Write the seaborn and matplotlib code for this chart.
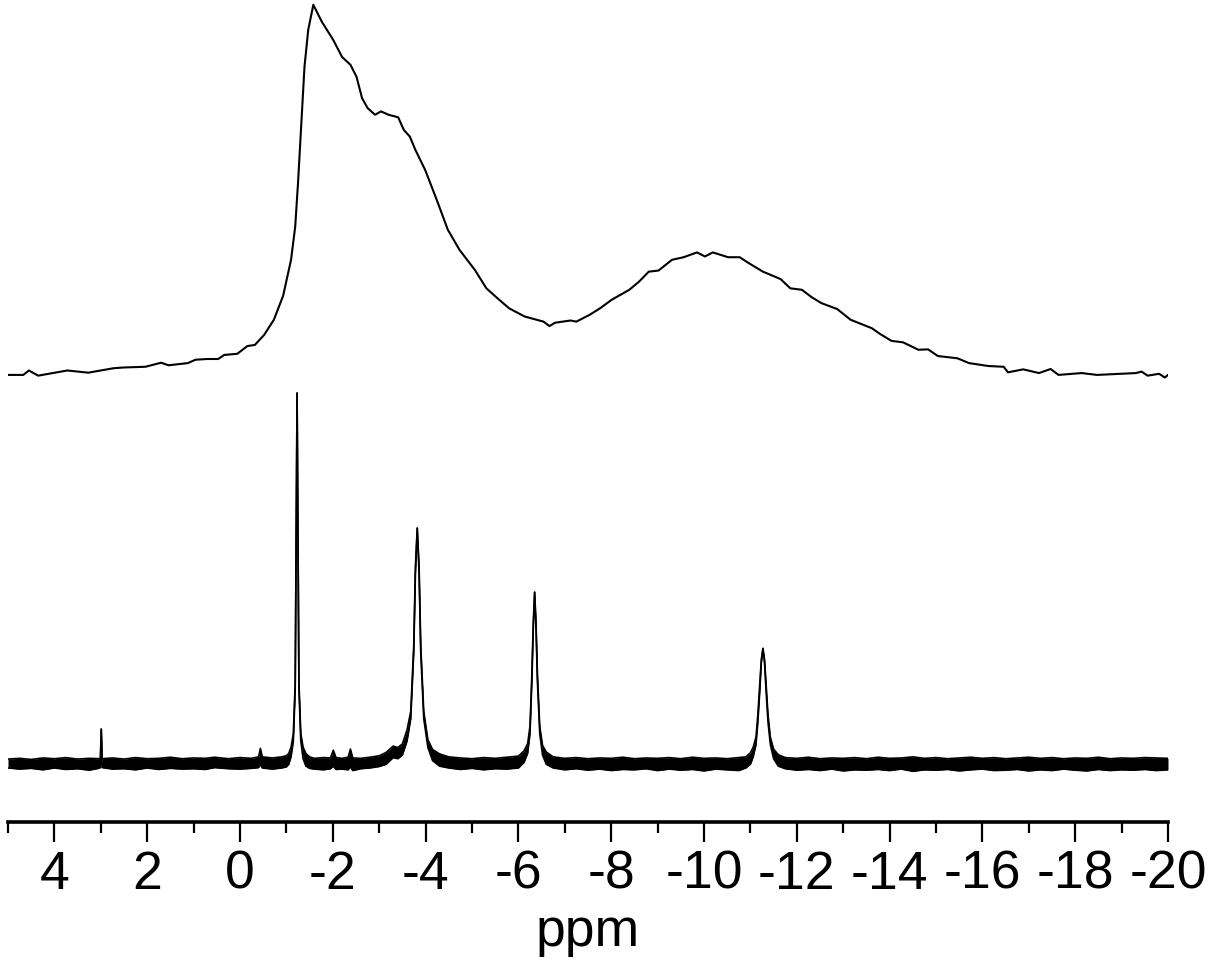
import matplotlib
matplotlib.use("Agg")
import matplotlib.pyplot as plt
import seaborn as sns
import numpy as np
import pandas as pd

# ---------------- data ----------------
# Top trace (broad spectrum): chemical shift (ppm) and intensity (top peak = 100)
top_ppm = [5.00, 4.67, 4.55, 4.35, 3.72, 3.27, 2.73, 2.52, 2.04, 1.70, 1.54, 1.12,
           0.96, 0.71, 0.47, 0.34, 0.06, -0.16, -0.32, -0.52, -0.73, -0.93, -1.10,
           -1.19, -1.25, -1.31, -1.39, -1.47, -1.58, -1.76, -2.01, -2.20, -2.38,
           -2.51, -2.63, -2.75, -2.91, -3.04, -3.20, -3.41, -3.53, -3.66, -3.78,
           -3.99, -4.24, -4.48, -4.73, -5.06, -5.31, -5.55, -5.80, -6.13, -6.54,
           -6.67, -6.79, -7.12, -7.25, -7.53, -7.76, -8.01, -8.39, -8.60, -8.81,
           -9.02, -9.31, -9.56, -9.85, -10.02, -10.19, -10.52, -10.77, -10.94,
           -11.27, -11.65, -11.86, -12.11, -12.32, -12.53, -12.87, -13.16, -13.62,
           -13.79, -14.04, -14.29, -14.62, -14.83, -15.04, -15.46, -15.71, -16.13,
           -16.46, -16.55, -16.88, -17.22, -17.47, -17.64, -18.14, -18.47, -19.31,
           -19.43, -19.56, -19.81, -19.93, -20.00]
top_int = [0.0, 0.0, 1.2, -0.2, 1.2, 0.6, 1.8, 2.0, 2.2, 3.3, 2.6, 3.2,
           4.1, 4.3, 4.3, 5.4, 5.7, 7.8, 8.1, 10.8, 14.9, 21.4, 31.1,
           40.1, 51.8, 65.3, 83.3, 93.2, 100.0, 95.5, 90.5, 85.9, 83.8,
           80.6, 74.8, 72.1, 70.3, 71.2, 70.3, 69.6, 66.2, 64.4, 60.8,
           55.4, 47.3, 39.2, 33.8, 28.4, 23.4, 20.7, 18.0, 15.8, 14.4,
           13.2, 14.1, 14.7, 14.4, 16.2, 18.0, 20.3, 23.0, 25.2, 27.9,
           28.2, 31.1, 31.8, 33.1, 32.0, 33.1, 31.8, 31.8, 30.4,
           27.9, 25.9, 23.4, 23.0, 21.0, 19.4, 17.8, 14.9, 12.6,
           11.1, 9.2, 8.8, 6.8, 6.9, 5.1, 4.5, 3.2, 2.4,
           2.2, 0.7, 1.5, 0.5, 1.6, 0.0, 0.5, 0.0, 0.5,
           0.9, -0.2, 0.3, -0.7, 0.0]

# Bottom trace (sharp peaks): ppm, upper and lower edge of the noisy trace
bot_ppm = [5.00, 4.75, 4.50, 4.25, 4.00, 3.75, 3.50, 3.25, 3.05, 3.01, 2.99, 2.97,
           2.75, 2.50, 2.25, 2.00, 1.75, 1.50, 1.25, 1.00, 0.75, 0.55, 0.25, 0.00,
           -0.25, -0.40, -0.44, -0.48, -0.70, -0.90, -1.00, -1.05, -1.10, -1.15,
           -1.19, -1.21, -1.23, -1.25, -1.27, -1.31, -1.36, -1.42, -1.50, -1.60,
           -1.80, -1.95, -2.01, -2.07, -2.20, -2.33, -2.38, -2.43, -2.60, -2.80,
           -3.00, -3.15, -3.30, -3.40, -3.50, -3.60, -3.68, -3.745, -3.78, -3.82,
           -3.86, -3.895, -3.96, -4.05, -4.15, -4.30, -4.50, -4.75, -5.00, -5.25,
           -5.50, -5.75, -6.00, -6.12, -6.20, -6.25, -6.29, -6.32, -6.35, -6.38,
           -6.41, -6.46, -6.52, -6.60, -6.75, -7.00, -7.25, -7.50, -7.75, -8.00,
           -8.25, -8.50, -8.75, -9.00, -9.25, -9.50, -9.75, -10.00, -10.25, -10.50,
           -10.75, -10.90, -11.00, -11.06, -11.12, -11.16, -11.20, -11.235, -11.27,
           -11.305, -11.34, -11.38, -11.43, -11.50, -11.60, -11.75, -12.00, -12.25,
           -12.50, -12.75, -13.00, -13.25, -13.50, -13.75, -14.00, -14.25, -14.50,
           -14.75, -15.00, -15.25, -15.50, -15.75, -16.00, -16.25, -16.50, -16.75,
           -17.00, -17.25, -17.50, -17.75, -18.00, -18.25, -18.50, -18.75, -19.00,
           -19.25, -19.50, -19.75, -20.00]
bot_hi = [1.1, 1.3, 1.0, 1.4, 1.2, 1.5, 1.1, 1.3, 1.2, 1.2, 9.2, 1.2,
          1.4, 1.1, 1.5, 1.2, 1.3, 1.6, 1.2, 1.4, 1.3, 1.6, 1.2, 1.5,
          1.3, 1.7, 4.0, 1.7, 1.4, 1.7, 2.0, 2.6, 4.3, 8.0,
          22.0, 60.0, 100.0, 60.0, 22.0, 8.0, 4.3, 2.6, 1.7, 1.3,
          1.5, 1.4, 3.5, 1.5, 1.3, 1.6, 3.8, 1.4, 1.3, 1.6,
          2.0, 2.9, 4.6, 4.2, 5.2, 9.0, 14.0, 32.0, 53.0, 63.5,
          53.0, 32.0, 14.0, 6.3, 3.7, 2.5, 1.7, 1.4, 1.2, 1.5,
          1.3, 1.6, 1.9, 3.3, 5.3, 10.0, 24.0, 38.0, 46.2, 38.0,
          24.0, 10.0, 4.8, 3.0, 1.7, 1.3, 1.5, 1.2, 1.4, 1.3,
          1.6, 1.2, 1.4, 1.3, 1.5, 1.2, 1.6, 1.3, 1.4, 1.2,
          1.5, 1.7, 2.8, 4.3, 7.0, 13.0, 21.0, 28.0, 31.0,
          28.0, 21.0, 13.0, 7.0, 3.8, 2.3, 1.5, 1.3, 1.6,
          1.2, 1.4, 1.3, 1.5, 1.2, 1.6, 1.3, 1.4, 1.7,
          1.3, 1.5, 1.2, 1.4, 1.6, 1.3, 1.5, 1.2, 1.4,
          1.6, 1.3, 1.5, 1.2, 1.4, 1.3, 1.6, 1.2, 1.4,
          1.3, 1.5, 1.4, 1.3]
bot_lo = [-1.3, -1.6, -1.4, -1.8, -1.3, -1.7, -1.5, -1.9, -1.4, -1.2, 9.2, -1.2,
          -1.6, -1.5, -1.8, -1.3, -1.7, -1.4, -1.6, -1.5, -1.7, -1.2, -1.5, -1.6,
          -1.4, -1.2, -0.3, -1.3, -1.6, -1.3, -1.0, -0.3, 1.7, 6.0,
          20.0, 60.0, 100.0, 60.0, 20.0, 6.0, 1.2, -0.8, -1.4, -1.6,
          -1.8, -1.5, -0.8, -1.7, -1.6, -1.8, -1.0, -2.0, -1.5, -1.3,
          -0.9, -0.3, 1.5, 1.2, 2.2, 6.0, 12.0, 30.0, 51.0, 63.5,
          51.0, 30.0, 12.0, 4.2, 0.7, -0.8, -1.3, -1.7, -1.4, -1.8,
          -1.5, -1.6, -1.3, 0.2, 2.7, 8.0, 22.0, 36.0, 46.2, 36.0,
          22.0, 8.0, 2.2, -0.3, -1.3, -1.8, -1.5, -1.9, -1.6, -2.0,
          -1.7, -1.8, -1.5, -2.0, -1.6, -1.9, -1.7, -2.1, -1.6, -1.8,
          -2.0, -1.3, -0.3, 1.7, 5.0, 11.0, 19.0, 27.0, 31.0,
          27.0, 19.0, 11.0, 5.0, 1.2, -0.8, -1.5, -1.9, -1.7,
          -2.0, -1.6, -2.1, -1.8, -1.9, -1.7, -2.0, -1.6, -2.2,
          -1.8, -1.9, -1.7, -2.1, -1.8, -1.6, -2.0, -1.9, -1.7,
          -2.1, -1.8, -2.0, -1.6, -1.9, -2.1, -1.7, -2.0, -1.8,
          -1.9, -1.7, -2.0, -1.8]

tick_values = [4, 2, 0, -2, -4, -6, -8, -10, -12, -14, -16, -18, -20]
tick_labels = ["4", "2", "0", "-2", "-4", "-6", "-8", "-10", "-12", "-14", "-16", "-18", "-20"]
minor_values = [5, 3, 1, -1, -3, -5, -7, -9, -11, -13, -15, -17, -19]
x_label = "ppm"

# ---------------- styling / layout ----------------
TOP_OFFSET = 104.9   # vertical stacking offset of the upper trace
LW = 1.5
FONT = ["Liberation Sans", "Arial", "DejaVu Sans"]
FS = 38.5

sns.set_theme(style="white")
plt.rcParams["font.family"] = FONT

fig = plt.figure(figsize=(12.09, 9.6), dpi=100)
ax = fig.add_axes([8 / 1209, 138 / 960, 1160 / 1209, 822 / 960])

top_df = pd.DataFrame({"ppm": top_ppm, "intensity": np.array(top_int) + TOP_OFFSET})
bot_df = pd.DataFrame({"ppm": bot_ppm, "hi": bot_hi, "lo": bot_lo})

sns.lineplot(data=top_df, x="ppm", y="intensity", ax=ax, color="black",
             lw=LW, estimator=None, sort=False)
ax.fill_between(bot_df["ppm"], bot_df["lo"], bot_df["hi"], color="black", lw=0)
sns.lineplot(data=bot_df, x="ppm", y="hi", ax=ax, color="black", lw=1.2,
             estimator=None, sort=False)
sns.lineplot(data=bot_df, x="ppm", y="lo", ax=ax, color="black", lw=1.2,
             estimator=None, sort=False)

ax.set_xlim(5, -20)
ax.set_ylim(-15.9, 206.2)

for s in ["left", "top", "right"]:
    ax.spines[s].set_visible(False)
ax.spines["bottom"].set_linewidth(2.6)
ax.spines["bottom"].set_color("black")

ax.set_yticks([])
ax.set_xticks(tick_values)
ax.set_xticklabels(tick_labels, fontsize=FS, family=FONT)
ax.set_xticks(minor_values, minor=True)
ax.tick_params(axis="x", which="major", direction="out", length=14.5, width=1.6,
               color="black", pad=5.5, bottom=True)
ax.tick_params(axis="x", which="minor", direction="out", length=8, width=1.6,
               color="black", bottom=True)
ax.set_xlabel(x_label, fontsize=FS, family=FONT, labelpad=5, color="black")
ax.set_ylabel("")
ax.grid(False)
ax.patch.set_alpha(0)
for lab in ax.get_xticklabels():
    lab.set_color("black")

fig.savefig("out.png", dpi=100, facecolor="white")
